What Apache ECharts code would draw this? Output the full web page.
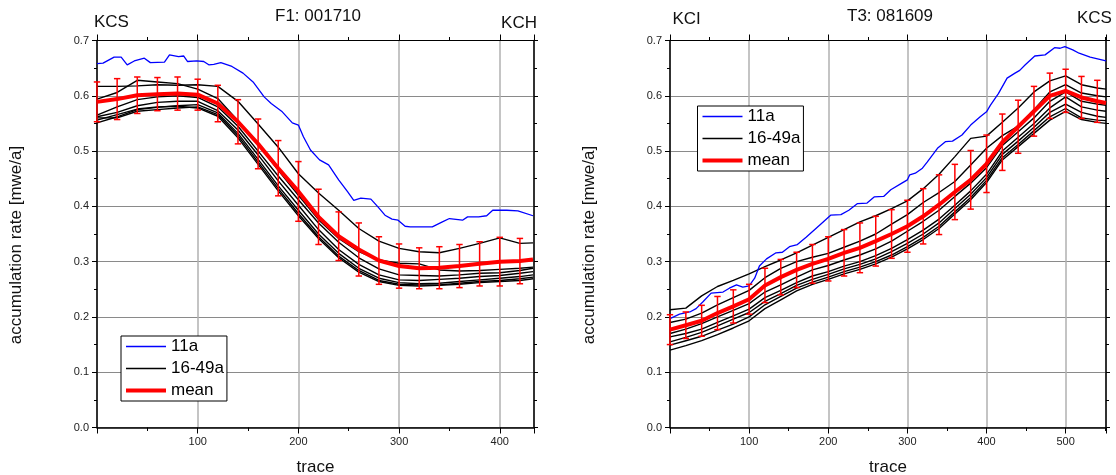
<!DOCTYPE html>
<html><head><meta charset="utf-8">
<script src="https://cdn.jsdelivr.net/npm/echarts@6/dist/echarts.min.js"></script>
<style>html,body{margin:0;padding:0;background:#fff}#c{width:1116px;height:475px}</style>
</head><body><div id="c"></div>
<script>
const FONT = '"Liberation Sans", Arial, sans-serif';

// ---------- Left panel: F1: 001710 ----------
const f1Traces = [0,20,40,60,80,100,120,140,160,180,200,220,240,260,280,300,320,340,360,380,400,420,433];
const f1Mean  = [0.589,0.594,0.601,0.603,0.604,0.602,0.586,0.553,0.513,0.469,0.427,0.381,0.346,0.322,0.302,0.292,0.288,0.289,0.292,0.296,0.300,0.301,0.304];
const f1Std   = [0.036,0.037,0.033,0.030,0.030,0.028,0.033,0.040,0.045,0.050,0.054,0.050,0.044,0.048,0.043,0.040,0.037,0.038,0.039,0.040,0.044,0.041];
const f1Line1 = [0.617,0.617,0.618,0.620,0.619,0.620,0.617,0.590,0.549,0.507,0.459,0.424,0.393,0.360,0.337,0.324,0.318,0.316,0.324,0.333,0.343,0.333,0.334];
const f1Line2 = [0.594,0.606,0.628,0.625,0.622,0.612,0.595,0.555,0.512,0.465,0.420,0.376,0.342,0.318,0.303,0.297,0.296,0.285,0.283,0.284,0.286,0.288,0.290];
const f1Line3 = [0.565,0.580,0.593,0.598,0.600,0.597,0.580,0.545,0.500,0.455,0.412,0.370,0.335,0.307,0.287,0.276,0.275,0.274,0.276,0.279,0.280,0.284,0.288];
const f1Line4 = [0.562,0.570,0.582,0.588,0.590,0.590,0.573,0.538,0.493,0.446,0.402,0.358,0.322,0.295,0.276,0.267,0.266,0.268,0.270,0.273,0.275,0.279,0.282];
const f1Line5 = [0.551,0.562,0.575,0.579,0.582,0.584,0.569,0.532,0.485,0.437,0.393,0.350,0.315,0.288,0.270,0.262,0.260,0.261,0.264,0.267,0.270,0.273,0.276];
const f1Line6 = [0.560,0.560,0.572,0.575,0.578,0.580,0.566,0.528,0.480,0.432,0.387,0.345,0.310,0.284,0.266,0.259,0.258,0.258,0.261,0.264,0.266,0.269,0.272];
const f1Line7 = [0.556,0.566,0.576,0.580,0.581,0.578,0.563,0.524,0.476,0.428,0.383,0.342,0.307,0.281,0.264,0.257,0.256,0.257,0.259,0.262,0.264,0.266,0.269];
const f1BlueX = [0,6,17,24,30,37,47,53,67,72,81,86,90,99,106,111,116,123,134,145,155,166,173,184,194,200,205,212,221,230,240,249,255,262,272,279,286,293,299,306,311,333,343,350,363,368,379,387,393,407,418,433];
const f1BlueY = [0.658,0.659,0.670,0.670,0.656,0.663,0.668,0.660,0.661,0.674,0.671,0.672,0.662,0.663,0.662,0.656,0.657,0.660,0.653,0.641,0.625,0.598,0.586,0.571,0.551,0.547,0.526,0.502,0.484,0.475,0.448,0.426,0.411,0.415,0.413,0.399,0.384,0.377,0.375,0.364,0.363,0.363,0.372,0.378,0.375,0.381,0.381,0.383,0.393,0.393,0.392,0.383];

// ---------- Right panel: T3: 081609 ----------
const f2Traces = [0,20,40,60,80,100,120,140,160,180,200,220,240,260,280,300,320,340,360,380,400,420,440,460,480,500,520,540,551];
const f2Mean  = [0.177,0.185,0.193,0.207,0.219,0.232,0.257,0.272,0.285,0.296,0.305,0.316,0.325,0.337,0.350,0.364,0.382,0.403,0.426,0.448,0.477,0.516,0.544,0.572,0.600,0.609,0.597,0.590,0.587];
const f2Std   = [0.027,0.024,0.028,0.030,0.030,0.027,0.031,0.032,0.032,0.035,0.040,0.042,0.045,0.045,0.044,0.047,0.050,0.054,0.050,0.053,0.052,0.051,0.048,0.045,0.041,0.039,0.038,0.038];
const f2Line1 = [0.213,0.216,0.238,0.255,0.266,0.278,0.291,0.303,0.316,0.330,0.344,0.358,0.372,0.383,0.396,0.410,0.432,0.458,0.490,0.523,0.527,0.552,0.578,0.607,0.627,0.636,0.620,0.614,0.612];
const f2Line2 = [0.190,0.196,0.207,0.222,0.235,0.248,0.271,0.288,0.300,0.308,0.315,0.326,0.337,0.350,0.368,0.385,0.407,0.425,0.445,0.475,0.505,0.528,0.545,0.575,0.607,0.620,0.605,0.600,0.598];
const f2Line3 = [0.170,0.178,0.188,0.200,0.212,0.224,0.245,0.258,0.272,0.285,0.293,0.303,0.312,0.323,0.337,0.355,0.373,0.393,0.418,0.442,0.470,0.510,0.535,0.560,0.590,0.607,0.590,0.585,0.583];
const f2Line4 = [0.164,0.170,0.178,0.190,0.202,0.214,0.235,0.248,0.262,0.274,0.282,0.292,0.300,0.311,0.324,0.340,0.357,0.377,0.402,0.428,0.458,0.500,0.525,0.550,0.578,0.598,0.580,0.574,0.572];
const f2Line5 = [0.155,0.163,0.172,0.184,0.196,0.208,0.228,0.242,0.257,0.268,0.277,0.287,0.295,0.305,0.318,0.333,0.350,0.370,0.396,0.422,0.452,0.494,0.518,0.543,0.570,0.585,0.570,0.563,0.561];
const f2Line6 = [0.149,0.157,0.165,0.176,0.187,0.200,0.222,0.237,0.252,0.263,0.272,0.282,0.290,0.300,0.312,0.327,0.344,0.364,0.390,0.416,0.447,0.488,0.512,0.537,0.562,0.577,0.560,0.556,0.555];
const f2Line7 = [0.140,0.148,0.157,0.168,0.180,0.193,0.215,0.231,0.247,0.259,0.268,0.278,0.286,0.296,0.308,0.323,0.340,0.360,0.386,0.412,0.443,0.484,0.508,0.532,0.556,0.572,0.557,0.552,0.550];
const f2BlueX = [0,12,25,33,42,52,67,75,84,92,100,107,113,122,134,142,151,161,172,189,203,216,226,237,249,258,270,279,293,300,303,310,319,325,338,348,357,369,380,392,400,405,415,426,436,442,449,461,474,486,493,499,509,517,531,551];
const f2BlueY = [0.197,0.205,0.209,0.215,0.228,0.243,0.245,0.252,0.258,0.254,0.256,0.270,0.292,0.305,0.316,0.317,0.327,0.331,0.344,0.366,0.384,0.385,0.393,0.405,0.406,0.417,0.418,0.430,0.442,0.448,0.457,0.460,0.469,0.480,0.505,0.517,0.518,0.529,0.547,0.562,0.571,0.583,0.604,0.632,0.641,0.646,0.656,0.672,0.674,0.687,0.686,0.689,0.683,0.677,0.670,0.663];

// ---------- text ----------
const legendNames = ['11a', '16-49a', 'mean'];
const yAxisTitle = 'accumulation rate [mwe/a]';
const xAxisTitle = 'trace';

const zip = (xs, ys) => xs.map((x, i) => [x, ys[i]]);

function lineSeries(name, xs, ys, color, width, gi, z) {
  return { type: 'line', name, xAxisIndex: gi * 2, yAxisIndex: gi * 2, data: zip(xs, ys),
    symbol: 'none', showSymbol: false, silent: true, z,
    itemStyle: { color }, lineStyle: { color, width } };
}
function errSeries(gi, traces, mean, std) {
  return { type: 'custom', name: 'err', xAxisIndex: gi * 2, yAxisIndex: gi * 2, z: 6, silent: true,
    data: std.map((s, i) => [traces[i], mean[i] - s, mean[i] + s]),
    encode: { x: 0, y: [1, 2] },
    renderItem(params, api) {
      const lo = api.coord([api.value(0), api.value(1)]);
      const hi = api.coord([api.value(0), api.value(2)]);
      const hw = 3.2;
      const style = { stroke: '#ff0000', lineWidth: 1.5 };
      return { type: 'group', children: [
        { type: 'line', shape: { x1: lo[0], y1: lo[1], x2: hi[0], y2: hi[1] }, style },
        { type: 'line', shape: { x1: lo[0] - hw, y1: lo[1], x2: lo[0] + hw, y2: lo[1] }, style },
        { type: 'line', shape: { x1: hi[0] - hw, y1: hi[1], x2: hi[0] + hw, y2: hi[1] }, style }
      ]};
    }
  };
}
function panelSeries(gi, traces, mean, std, blueX, blueY, blacks) {
  const s = [];
  blacks.forEach(b => s.push(lineSeries(legendNames[1], traces, b, '#000000', 1.4, gi, 2)));
  s.push(lineSeries(legendNames[0], blueX, blueY, '#0000ff', 1.3, gi, 3));
  s.push(lineSeries(legendNames[2], traces, mean, '#ff0000', 4, gi, 4));
  s.push(errSeries(gi, traces, mean, std));
  return s;
}

function xAxes(gi, max) {
  const tick = { show: true, inside: false, length: 6, lineStyle: { color: '#000', width: 1 } };
  const minor = { show: true, splitNumber: 2, length: 3.5, lineStyle: { color: '#000', width: 1 } };
  return [
    { gridIndex: gi, type: 'value', position: 'bottom', min: 0, max, interval: 100,
      axisLine: { show: true, onZero: false, lineStyle: { color: '#000', width: 1.5 } },
      axisTick: tick, minorTick: minor,
      axisLabel: { fontSize: 11, color: '#222', fontFamily: FONT, margin: 9, showMinLabel: false, showMaxLabel: false },
      splitLine: { show: true, lineStyle: { color: '#b0b0b0', width: 1.5 } } },
    { gridIndex: gi, type: 'value', position: 'top', min: 0, max, interval: 100,
      axisLine: { show: true, onZero: false, lineStyle: { color: '#000', width: 1 } },
      axisTick: tick, minorTick: minor, axisLabel: { show: false }, splitLine: { show: false } }
  ];
}
function yAxes(gi) {
  const minor = { show: true, splitNumber: 2, length: 3, lineStyle: { color: '#000', width: 1 } };
  return [
    { gridIndex: gi, type: 'value', position: 'left', min: 0, max: 0.7, interval: 0.1,
      axisLine: { show: true, onZero: false, lineStyle: { color: '#000', width: 1.5 } },
      axisTick: { show: true, inside: false, length: 5, lineStyle: { color: '#000', width: 1 } },
      minorTick: minor,
      axisLabel: { fontSize: 11, color: '#222', fontFamily: FONT, margin: 8, formatter: v => v.toFixed(1) },
      splitLine: { show: true, lineStyle: { color: '#8a8a8a', width: 1 } } },
    { gridIndex: gi, type: 'value', position: 'right', min: 0, max: 0.7, interval: 0.1,
      axisLine: { show: true, onZero: false, lineStyle: { color: '#000', width: 1.5 } },
      axisTick: { show: true, inside: false, length: 4, lineStyle: { color: '#000', width: 1 } },
      minorTick: minor, axisLabel: { show: false }, splitLine: { show: false } }
  ];
}
function legend(left, top) {
  return { left, top, orient: 'vertical', itemWidth: 40, itemHeight: 12, itemGap: 5,
    padding: [2, 3, 2, 5], borderColor: '#000', borderWidth: 1, backgroundColor: '#fff',
    selectedMode: false, symbolKeepAspect: true, itemStyle: { borderWidth: 0 },
    textStyle: { fontSize: 17, fontFamily: FONT, color: '#000', lineHeight: 17 },
    data: [
      { name: legendNames[0], icon: 'path://M0,0H40V1.3H0Z' },
      { name: legendNames[1], icon: 'path://M0,0H40V1.3H0Z' },
      { name: legendNames[2], icon: 'path://M0,0H40V4H0Z' }
    ] };
}
function txt(text, x, y, align, rot) {
  return { type: 'text', x, y, rotation: rot || 0, silent: true,
    style: { text, fontSize: 17, fontFamily: FONT, fill: '#111', align, verticalAlign: 'middle' } };
}

const chart = echarts.init(document.getElementById('c'), null, { renderer: 'canvas' });
chart.setOption({
  animation: false,
  backgroundColor: '#fff',
  grid: [
    { left: 97, top: 40.5, width: 437, height: 387 },
    { left: 670, top: 40.5, width: 436, height: 387 }
  ],
  xAxis: [...xAxes(0, 434), ...xAxes(1, 551)],
  yAxis: [...yAxes(0), ...yAxes(1)],
  legend: [legend(121, 336), legend(697.5, 106)],
  series: [
    ...panelSeries(0, f1Traces, f1Mean, f1Std, f1BlueX, f1BlueY, [f1Line1, f1Line2, f1Line3, f1Line4, f1Line5, f1Line6, f1Line7]),
    ...panelSeries(1, f2Traces, f2Mean, f2Std, f2BlueX, f2BlueY, [f2Line1, f2Line2, f2Line3, f2Line4, f2Line5, f2Line6, f2Line7])
  ],
  graphic: [
    txt('KCS', 94, 22.7, 'left'),
    txt('F1: 001710', 318, 16.5, 'center'),
    txt('KCH', 537, 23.5, 'right'),
    txt('KCI', 672.5, 19.5, 'left'),
    txt('T3: 081609', 890, 16, 'center'),
    txt('KCS', 1077, 18.5, 'left'),
    txt(xAxisTitle, 315.5, 467, 'center'),
    txt(xAxisTitle, 888, 467, 'center'),
    txt(yAxisTitle, 16, 245, 'center', Math.PI / 2),
    txt(yAxisTitle, 589.5, 245, 'center', Math.PI / 2)
  ]
});
</script></body></html>
